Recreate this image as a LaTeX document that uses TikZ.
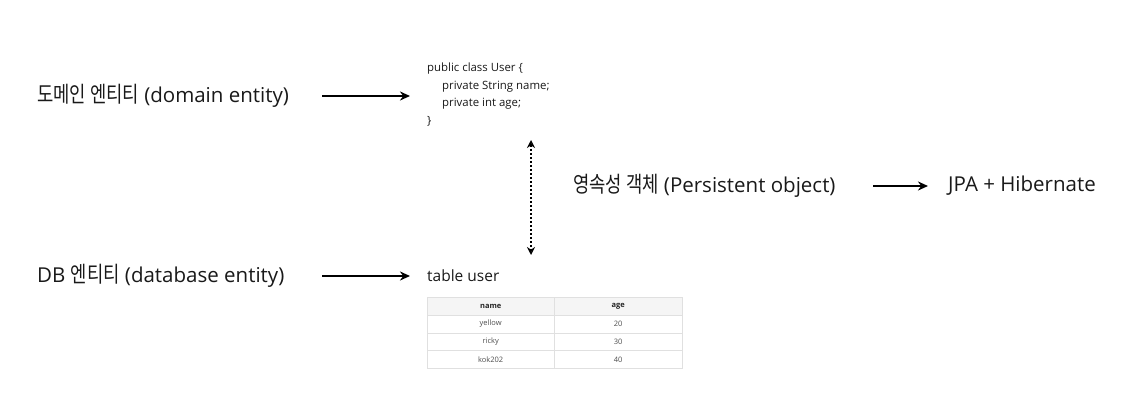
\documentclass[tikz,border=0pt]{standalone}
\usepackage{fontspec}
\setmainfont{Open Sans}
\newfontfamily\kr[FakeStretch=0.8,Scale=1.08]{Noto Sans CJK KR}
\usetikzlibrary{arrows.meta,positioning}
\tikzstyle{txt} = [anchor=west, inner sep=0pt, font=\fontsize{20.5}{24}\selectfont, text=black!90]
\tikzstyle{line} = [draw, line width=2.2pt, -{Stealth[length=10pt,width=9pt]}]
\tikzstyle{dots} = [draw, line width=2pt, dotted, {Stealth[length=8pt,width=8pt,open]}-{Stealth[length=8pt,width=8pt,open]}]
\tikzstyle{cell} = [draw=black!12, minimum height=17.75pt, inner sep=0pt, font=\fontsize{7.5}{9}\selectfont, text=black!70]

\begin{document}
\begin{tikzpicture}[x=1pt,y=-1pt]
\useasboundingbox (0,0) rectangle (1144,401);

         \node (domain) [txt] at (37,96) {{\kr 도메인 엔티티} (domain entity)};
         \node (db)     [txt] at (37,276) {DB {\kr 엔티티} (database entity)};

         \node (code) [anchor=north west, inner sep=0pt, align=left, text=black!90,
                font=\fontsize{11.4}{17.5}\selectfont] at (427,63)
                {public class User \{\\
                 \hspace*{15pt}private String name;\\
                 \hspace*{15pt}private int age;\\
                 \}};
         \node (tbl) [txt, font=\fontsize{15.5}{18}\selectfont] at (427,276) {table user};

         \node (persist) [txt] at (573,186) {{\kr 영속성 객체} (Persistent object)};
         \node (jpa)     [txt] at (948,186) {JPA + Hibernate};

         % table
         \node (hname) [cell, fill=black!4, minimum width=127pt, anchor=north west, text=black!85] at (427,297) {\textbf{name}};
         \node (hage)  [cell, fill=black!4, minimum width=128pt, anchor=north west, text=black!85] at (554,297) {\textbf{age}};
         \foreach \who/\age [count=\i] in {yellow/20, ricky/30, kok202/40} {
             \node (n\i) [cell, minimum width=127pt, anchor=north west] at (427,297+17.75*\i) {\who};
             \node (a\i) [cell, minimum width=128pt, anchor=north west] at (554,297+17.75*\i) {\age};
         }

         \coordinate (up)   at (531,140);
         \coordinate (down) at (531,255);

         \path [line] ([xshift=-105pt]code.west |- domain.east) -- ([xshift=-17pt]code.west |- domain.east);
         \path [line] ([xshift=-105pt]tbl.west) -- ([xshift=-17pt]tbl.west);
         \path [line] ([xshift=-75pt]jpa.west) -- ([xshift=-20pt]jpa.west);
         \path [dots] (up) -- (down);

\end{tikzpicture}
\end{document}
